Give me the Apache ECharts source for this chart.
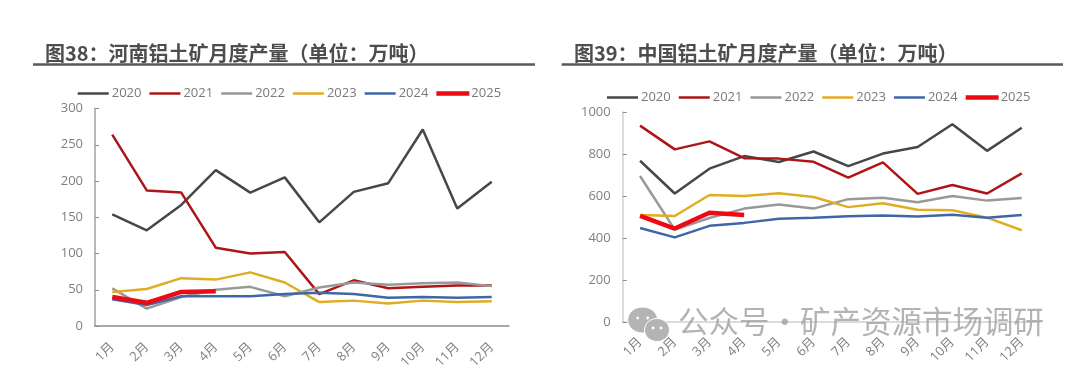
<!DOCTYPE html>
<html>
<head>
<meta charset="utf-8">
<style>
  html, body { margin: 0; padding: 0; background: #fff; }
  #chart { width: 1080px; height: 368px; }
</style>
</head>
<body>
<div id="chart"></div>
<script src="https://cdn.jsdelivr.net/npm/echarts@6/dist/echarts.min.js"></script>
<script>
const months = ['1月', '2月', '3月', '4月', '5月', '6月', '7月', '8月', '9月', '10月', '11月', '12月']
const years = ['2020', '2021', '2022', '2023', '2024', '2025']

const henan2020 = [154, 132, 167, 215, 184, 205, 143, 185, 197, 271, 162, 199]
const henan2021 = [264, 187, 184, 108, 100, 102, 44, 63, 52, 54, 56, 56]
const henan2022 = [52, 24, 40, 50, 54, 41, 53, 60, 57, 59, 60, 55]
const henan2023 = [47, 51, 66, 64, 74, 60, 33, 35, 31, 35, 33, 34]
const henan2024 = [37, 29, 41, 41, 41, 44, 46, 44, 39, 40, 39, 40]
const henan2025 = [40, 32, 47, 48]

const china2020 = [768, 612, 730, 790, 762, 812, 742, 802, 833, 942, 815, 925]
const china2021 = [935, 822, 860, 780, 778, 763, 687, 760, 610, 652, 612, 708]
const china2022 = [695, 440, 495, 540, 560, 540, 585, 592, 570, 600, 578, 590]
const china2023 = [510, 505, 605, 600, 613, 595, 547, 565, 535, 532, 497, 437]
const china2024 = [448, 403, 458, 472, 492, 496, 503, 507, 502, 511, 497, 510]
const china2025 = [505, 445, 520, 510]

const colors = ['#474747', '#ad1519', '#999999', '#e0ad20', '#3f67a6', '#ee0a14']
const widths = [2.5, 2.5, 2.5, 2.5, 2.5, 4.5]
const labelFont = '"Open Sans", "Noto Sans CJK SC", sans-serif'
const titleFont = '"Noto Sans CJK SC", sans-serif'

const makeSeries = (arrays, axisIndex) => arrays.map((data, i) => ({
    name: years[i],
    type: 'line',
    xAxisIndex: axisIndex,
    yAxisIndex: axisIndex,
    data,
    symbol: 'none',
    smooth: false,
    animation: false,
    lineStyle: { color: colors[i], width: widths[i] },
    itemStyle: { color: colors[i] },
}))

const legendData = years.map((name, i) => ({
    name,
    itemStyle: { color: colors[i], borderColor: colors[i], borderWidth: i === 5 ? 2 : 0 },
}))

const makeLegend = (left, top) => ({
    data: legendData,
    left,
    top,
    icon: 'rect',
    itemWidth: 31,
    itemHeight: 2.5,
    itemGap: 8,
    selectedMode: false,
    padding: 0,
    textStyle: { color: '#7a7a7a', fontSize: 13, fontFamily: labelFont, padding: [0, 0, 0, -2] },
})

const makeX = (gridIndex, axisColor, margin) => ({
    type: 'category',
    gridIndex,
    data: months,
    boundaryGap: true,
    axisLine: { lineStyle: { color: axisColor, width: 1.5 } },
    axisTick: { inside: true, length: 5, lineStyle: { color: '#808080' } },
    axisLabel: { interval: 0, rotate: 45, color: '#7f7f7f', fontSize: 13, margin, fontFamily: labelFont },
    splitLine: { show: false },
})

const makeY = (gridIndex, max, interval, axisColor) => ({
    type: 'value',
    gridIndex,
    min: 0,
    max,
    interval,
    axisLine: { show: true, lineStyle: { color: axisColor, width: 1.5 } },
    axisTick: { show: true, inside: true, length: 4, lineStyle: { color: '#8a8a8a' } },
    axisLabel: { color: '#7f7f7f', fontSize: 13, margin: 12, fontFamily: labelFont, formatter: (v) => String(v) },
    splitLine: { show: false },
})

const makeTitle = (text, left) => ({
    text,
    left,
    top: 43,
    padding: 0,
    textStyle: { color: '#4d4d4d', fontSize: 20, fontWeight: 'bold', fontFamily: titleFont },
})

const makeRule = (x1, x2) => ({
    type: 'line',
    shape: { x1, y1: 64.5, x2, y2: 64.5 },
    style: { stroke: '#595959', lineWidth: 2.5 },
})

const bubble = (cx, cy, rx, ry, eye) => [
    { type: 'ellipse', shape: { cx, cy, rx, ry }, style: { fill: '#b4b4b4', stroke: '#fff', lineWidth: 1 }, z: 20 },
    { type: 'circle', shape: { cx: cx - eye, cy: cy - 2, r: 1.4 }, style: { fill: '#fff' }, z: 21 },
    { type: 'circle', shape: { cx: cx + eye, cy: cy - 2, r: 1.4 }, style: { fill: '#fff' }, z: 21 },
]

const myChart = echarts.init(document.getElementById('chart'), null, { renderer: 'canvas' })
const option = {
    backgroundColor: '#fff',
    animation: false,
    title: [
        makeTitle('图38\uFF1A河南铝土矿月度产量\uFF08单位\uFF1A万吨\uFF09', 45),
        makeTitle('图39\uFF1A中国铝土矿月度产量\uFF08单位\uFF1A万吨\uFF09', 574),
    ],
    legend: [makeLegend(77.7, 87), makeLegend(607, 91)],
    grid: [
        { left: 95, top: 108.5, width: 414, height: 217.5, outerBoundsMode: 'none' },
        { left: 622.7, top: 112, width: 416.4, height: 210, outerBoundsMode: 'none' },
    ],
    xAxis: [makeX(0, '#8c8c8c', 19), makeX(1, '#cfcfcf', 18)],
    yAxis: [makeY(0, 300, 50, '#a0a0a0'), makeY(1, 1000, 200, '#cfcfcf')],
    series: [
        ...makeSeries([henan2020, henan2021, henan2022, henan2023, henan2024, henan2025], 0),
        ...makeSeries([china2020, china2021, china2022, china2023, china2024, china2025], 1),
    ],
    graphic: [
        makeRule(33, 535),
        makeRule(561.7, 1063),
        ...bubble(642.7, 320, 15, 13, 5),
        ...bubble(657, 330, 12.5, 11.5, 4),
        {
            type: 'text',
            x: 678,
            y: 306,
            z: 20,
            style: {
                text: '公众号\u00B7矿产资源市场调研',
                fill: 'rgba(160,160,160,0.8)',
                fontSize: 30.5,
                fontFamily: titleFont,
            },
        },
    ],
}
myChart.setOption(option)
</script>
</body>
</html>
